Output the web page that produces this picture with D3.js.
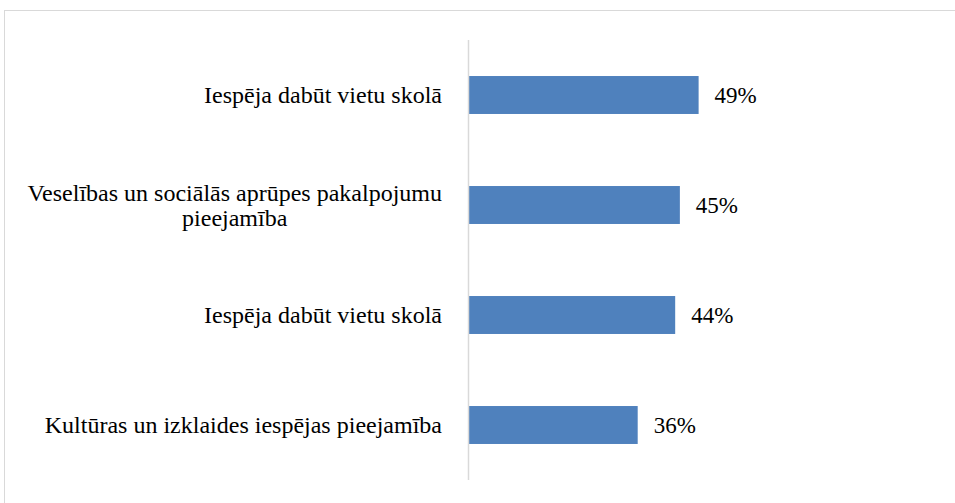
<!DOCTYPE html>
<html><head><meta charset="utf-8">
<script src="https://cdn.jsdelivr.net/npm/d3@7"></script>
<style>html,body{margin:0;padding:0;background:#fff;}svg{display:block;}</style>
</head><body>
<svg id="chart" width="955" height="503"></svg>
<script>
const categories = [
  ["Iespēja dabūt vietu skolā"],
  ["Veselības un sociālās aprūpes pakalpojumu", "pieejamība"],
  ["Iespēja dabūt vietu skolā"],
  ["Kultūras un izklaides iespējas pieejamība"]
];
const values = [49, 45, 44, 36];
const valueLabels = ["49%", "45%", "44%", "36%"];

const svg = d3.select("#chart");
const font = "Liberation Serif";
const catSize = 24;
const valSize = 23;

svg.append("rect").attr("x", 4.5).attr("y", 10.5).attr("width", 960).attr("height", 500)
  .attr("fill", "#fff").attr("stroke", "#d9d9d9").attr("stroke-width", 1);

const idx = d3.range(values.length);
const y = d3.scaleBand().domain(idx).range([40, 480]).paddingInner(0.655).paddingOuter(0.3275);
const x = d3.scaleLinear().domain([0, 100]).range([469, 937.6]);

svg.selectAll("rect.bar").data(idx).join("rect").attr("class", "bar")
  .attr("x", x(0)).attr("y", i => y(i)).attr("width", i => x(values[i]) - x(0))
  .attr("height", y.bandwidth()).attr("fill", "#4f81bd");

svg.append("line").attr("x1", 468.5).attr("x2", 468.5).attr("y1", 40).attr("y2", 480)
  .attr("stroke", "#d9d9d9").attr("stroke-width", 1.5);

svg.selectAll("text.val").data(idx).join("text").attr("class", "val")
  .attr("x", i => x(values[i]) + 16).attr("y", i => y(i) + y.bandwidth() / 2)
  .attr("dy", "0.35em").style("font-family", font).style("font-size", valSize + "px").attr("fill", "#000")
  .text(i => valueLabels[i]);

const lh = 25;
const rightEdge = 442;
idx.forEach(i => {
  const lines = categories[i];
  const g = svg.append("g");
  const texts = lines.map((l, j) => g.append("text").style("font-family", font).style("font-size", catSize + "px")
    .attr("fill", "#000").attr("text-anchor", "middle")
    .attr("y", y(i) + y.bandwidth() / 2 + (j - (lines.length - 1) / 2) * lh).attr("dy", "0.35em").text(l));
  const maxW = d3.max(texts, t => t.node().getComputedTextLength());
  texts.forEach(t => t.attr("x", rightEdge - maxW / 2));
});
</script>
</body></html>
